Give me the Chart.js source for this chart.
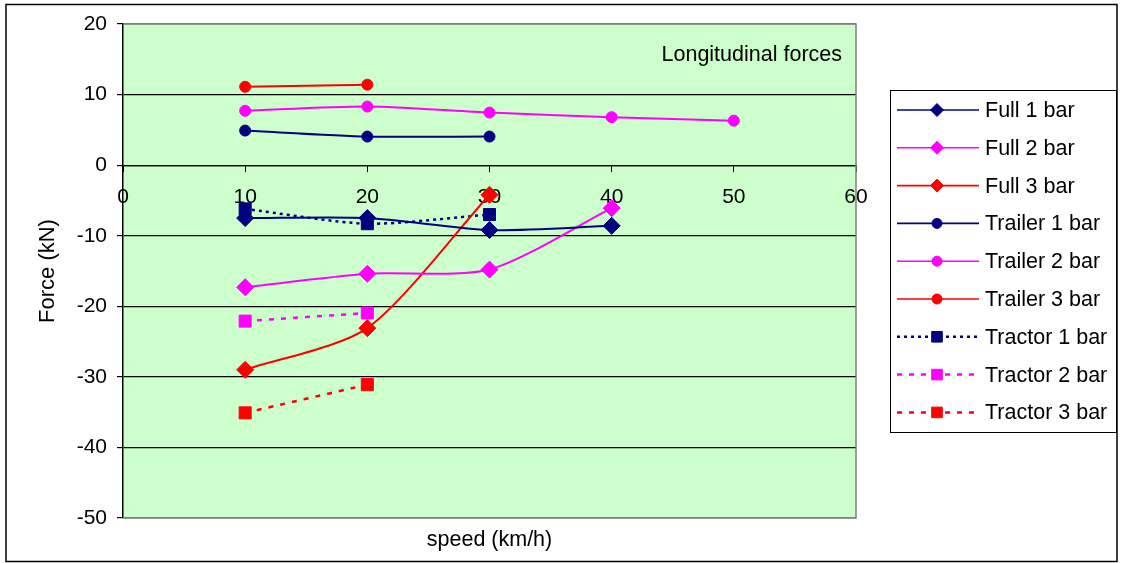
<!DOCTYPE html>
<html>
<head>
<meta charset="utf-8">
<script src="https://cdn.jsdelivr.net/npm/chart.js@4/dist/chart.umd.min.js"></script>
<style>
  html, body { margin: 0; padding: 0; background: #fff; }
  #wrap { width: 1123px; height: 563px; }
</style>
</head>
<body>
<div id="wrap"><canvas id="forces" width="1123" height="563"></canvas></div>
<script>
// values (speed in km/h, force in kN)
const fullSpeeds = [10, 20, 30, 40];
const full1 = [-7.5, -7.5, -9.2, -8.6];
const full2 = [-17.3, -15.4, -14.8, -6.1];
const full3Speeds = [10, 20, 30];
const full3 = [-29.0, -23.1, -4.2];

const trailer1Speeds = [10, 20, 30];
const trailer1 = [4.9, 4.05, 4.05];
const trailer2Speeds = [10, 20, 30, 40, 50];
const trailer2 = [7.7, 8.3, 7.45, 6.8, 6.3];
const trailer3Speeds = [10, 20];
const trailer3 = [11.1, 11.4];

const tractor1Speeds = [10, 20, 30];
const tractor1 = [-6.2, -8.3, -7.0];
const tractor2Speeds = [10, 20];
const tractor2 = [-22.1, -20.95];
const tractor3Speeds = [10, 20];
const tractor3 = [-35.1, -31.1];

const NAVY = "#000080";
const MAGENTA = "#FF00FF";
const RED = "#FF0000";
const FONT = "'Liberation Sans', Arial, sans-serif";

function pts(xs, ys) {
  return xs.map((x, i) => ({ x, y: ys[i] }));
}

function series(label, xs, ys, color, style, dash) {
  const radius = style === "rectRot" ? 8.5 : style === "rect" ? 8.5 : 5.5;
  return {
    label,
    data: pts(xs, ys),
    borderColor: color,
    backgroundColor: color,
    borderWidth: dash ? 2.5 : 2,
    borderDash: dash || [],
    pointStyle: style,
    pointRadius: radius,
    pointHoverRadius: radius,
    pointBorderWidth: 1,
    pointBorderColor: color,
    pointBackgroundColor: color,
    tension: 0.25,
    legendRadius: style === "rectRot" ? 6.5 : style === "rect" ? 7.5 : 5,
  };
}

const datasets = [
  series("Full 1 bar", fullSpeeds, full1, NAVY, "rectRot"),
  series("Full 2 bar", fullSpeeds, full2, MAGENTA, "rectRot"),
  series("Full 3 bar", full3Speeds, full3, RED, "rectRot"),
  series("Trailer 1 bar", trailer1Speeds, trailer1, NAVY, "circle"),
  series("Trailer 2 bar", trailer2Speeds, trailer2, MAGENTA, "circle"),
  series("Trailer 3 bar", trailer3Speeds, trailer3, RED, "circle"),
  series("Tractor 1 bar", tractor1Speeds, tractor1, NAVY, "rect", [3, 4]),
  series("Tractor 2 bar", tractor2Speeds, tractor2, MAGENTA, "rect", [5, 7]),
  series("Tractor 3 bar", tractor3Speeds, tractor3, RED, "rect", [5, 7]),
];

// green plot background, grey frame, outer border, note and boxed legend
const frame = {
  id: "frame",
  beforeDraw(chart) {
    const { ctx, chartArea: a } = chart;
    ctx.save();
    ctx.fillStyle = "#CCFFCC";
    ctx.fillRect(a.left, a.top, a.right - a.left, a.bottom - a.top);
    ctx.restore();
  },
  beforeDatasetsDraw(chart) {
    const { ctx, chartArea: a } = chart;
    ctx.save();
    ctx.strokeStyle = "#808080";
    ctx.lineWidth = 1.5;
    ctx.beginPath();
    ctx.moveTo(a.left, a.top);
    ctx.lineTo(a.right, a.top);
    ctx.lineTo(a.right, a.bottom);
    ctx.lineTo(a.left, a.bottom);
    ctx.stroke();
    ctx.restore();
  },
  afterDraw(chart) {
    const { ctx, chartArea: a } = chart;
    ctx.save();
    ctx.strokeStyle = "#000";
    ctx.lineWidth = 1.5;
    ctx.strokeRect(6, 4.5, 1111, 557);

    ctx.fillStyle = "#000";
    ctx.font = "21.5px " + FONT;
    ctx.textAlign = "right";
    ctx.textBaseline = "middle";
    ctx.fillText("Longitudinal forces", a.right - 14, 55);

    // legend
    ctx.lineWidth = 1;
    ctx.strokeRect(890.5, 90.5, 226, 342);
    ctx.font = "21.5px " + FONT;
    ctx.textAlign = "left";
    chart.data.datasets.forEach((ds, i) => {
      const y = 110 + i * 37.8;
      ctx.save();
      ctx.strokeStyle = ds.borderColor;
      ctx.lineWidth = ds.borderDash.length ? 2.5 : 1.6;
      ctx.setLineDash(ds.borderDash);
      ctx.beginPath();
      ctx.moveTo(897, y);
      ctx.lineTo(979, y);
      ctx.stroke();
      ctx.setLineDash([]);
      ctx.fillStyle = ds.backgroundColor;
      ctx.lineWidth = 1;
      Chart.helpers.drawPoint(ctx, {
        pointStyle: ds.pointStyle,
        rotation: 0,
        radius: ds.legendRadius,
        borderWidth: 1,
      }, 937, y);
      ctx.restore();
      ctx.fillStyle = "#000";
      ctx.fillText(ds.label, 985, y + 1);
    });
    ctx.restore();
  },
};

new Chart(document.getElementById("forces"), {
  type: "line",
  data: { datasets },
  plugins: [frame],
  options: {
    responsive: false,
    animation: false,
    events: [],
    layout: { padding: { left: 35, right: 267, top: 24, bottom: 10 } },
    plugins: {
      legend: { display: false },
      tooltip: { enabled: false },
    },
    scales: {
      x: {
        type: "linear",
        position: { y: 0 },
        min: 0,
        max: 60,
        ticks: {
          stepSize: 10,
          color: "#000",
          padding: 13,
          maxRotation: 0,
          font: { family: FONT, size: 21 },
        },
        grid: {
          drawOnChartArea: false,
          tickLength: 6,
          color: "#000",
        },
        border: { color: "#000", width: 1.2 },
      },
      x2: {
        type: "linear",
        position: "bottom",
        min: 0,
        max: 60,
        ticks: { display: false },
        grid: { display: false },
        border: { display: false },
        title: {
          display: true,
          text: "speed (km/h)",
          color: "#000",
          padding: 0,
          font: { family: FONT, size: 21.5 },
        },
        afterFit(scale) {
          scale.height = 35;
        },
      },
      y: {
        min: -50,
        max: 20,
        ticks: {
          stepSize: 10,
          color: "#000",
          padding: 10,
          font: { family: FONT, size: 21 },
        },
        grid: {
          color: (c) =>
            c.tick && (c.tick.value === 20 || c.tick.value === -50) ? "#808080" : "#000",
          tickColor: "#000",
          tickLength: 6,
          lineWidth: 1.2,
        },
        border: { color: "#000", width: 1.5 },
        title: {
          display: true,
          text: "Force (kN)",
          color: "#000",
          padding: 0,
          font: { family: FONT, size: 22 },
        },
        afterFit(scale) {
          scale.width = 88;
        },
      },
    },
  },
});
</script>
</body>
</html>
